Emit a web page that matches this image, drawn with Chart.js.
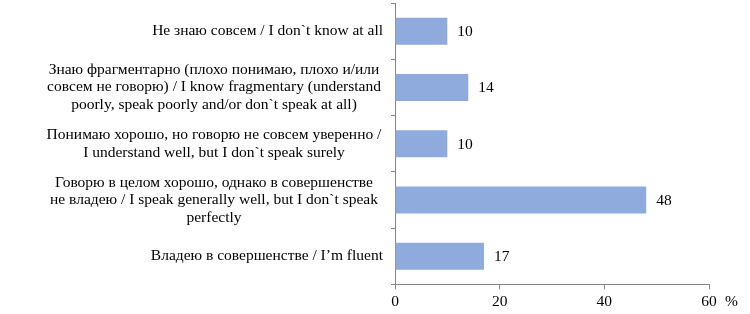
<!DOCTYPE html>
<html>
<head>
<meta charset="utf-8">
<script src="https://cdn.jsdelivr.net/npm/chart.js@4/dist/chart.umd.min.js"></script>
<style>
html,body{margin:0;padding:0;background:#fff;}
#wrap{width:750px;height:314px;position:relative;}
</style>
</head>
<body>
<div id="wrap"><canvas id="c" width="750" height="314"></canvas></div>
<script>
const categories = [
  ["Не знаю совсем / I don`t know at all"],
  ["Знаю фрагментарно (плохо понимаю, плохо и/или", "совсем не говорю) / I know fragmentary (understand", "poorly, speak poorly and/or don`t speak at all)"],
  ["Понимаю хорошо, но говорю не совсем уверенно /", "I understand well, but I don`t speak surely"],
  ["Говорю в целом хорошо, однако в совершенстве", "не владею / I speak generally well, but I don`t speak", "perfectly"],
  ["Владею в совершенстве / I’m fluent"]
];
const values = [10, 14, 10, 48, 17];
const xTicks = [0, 20, 40, 60];
const unitLabel = "%";

const FONT = "'Liberation Serif', 'Times New Roman', serif";
const FS = 15.5;

const labelPlugin = {
  id: 'labels',
  afterDraw(chart) {
    const ctx = chart.ctx;
    const y = chart.scales.y, x = chart.scales.x;
    ctx.save();
    ctx.fillStyle = '#000';
    ctx.font = FS + 'px ' + FONT;
    ctx.textBaseline = 'middle';
    const lh = 17.5;
    categories.forEach((lines, i) => {
      const cy = y.getPixelForValue(i);
      const n = lines.length;
      if (n === 1) {
        ctx.textAlign = 'right';
        ctx.fillText(lines[0], 383, cy);
      } else {
        ctx.textAlign = 'center';
        lines.forEach((ln, k) => {
          ctx.fillText(ln, 214, cy + (k - (n - 1) / 2) * lh);
        });
      }
    });
    // value labels
    const meta = chart.getDatasetMeta(0);
    ctx.textAlign = 'left';
    meta.data.forEach((bar, i) => {
      ctx.fillText(String(values[i]), bar.x + 10, bar.y + 1);
    });
    // unit
    ctx.textAlign = 'left';
    ctx.fillText(unitLabel, x.getPixelForValue(xTicks[xTicks.length - 1]) + 16, x.top + 17.5);
    ctx.restore();
  }
};

new Chart(document.getElementById('c'), {
  type: 'bar',
  data: {
    labels: categories,
    datasets: [{
      data: values,
      backgroundColor: '#8FAADC',
      borderWidth: 0,
      categoryPercentage: 1,
      barPercentage: 0.48
    }]
  },
  options: {
    indexAxis: 'y',
    responsive: false,
    animation: false,
    devicePixelRatio: 1,
    layout: { padding: { top: 3, right: 41, bottom: 0, left: 0 } },
    plugins: { legend: { display: false }, tooltip: { enabled: false } },
    scales: {
      x: {
        min: 0, max: 60,
        afterBuildTicks(s) { s.ticks = xTicks.map(v => ({ value: v })); },
        grid: { drawOnChartArea: false, drawTicks: true, tickLength: 5, color: '#868686' },
        border: { color: '#868686', width: 1 },
        ticks: { color: '#000', font: { family: FONT, size: FS }, padding: 3, maxRotation: 0 }
      },
      y: {
        afterFit(s) { s.width = 395; },
        grid: { offset: true, drawOnChartArea: false, drawTicks: true, tickLength: 4, color: '#868686' },
        border: { color: '#868686', width: 1 },
        ticks: { display: false }
      }
    }
  },
  plugins: [labelPlugin]
});
</script>
</body>
</html>
